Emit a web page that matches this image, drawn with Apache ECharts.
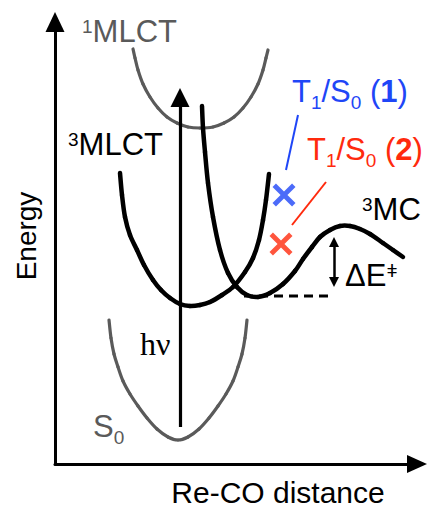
<!DOCTYPE html>
<html><head><meta charset="utf-8">
<script src="https://cdn.jsdelivr.net/npm/echarts@6/dist/echarts.min.js"></script>
<style>html,body{margin:0;padding:0;background:#fff}#c{width:430px;height:508px}</style>
</head><body><div id="c"></div>
<script>
// Axis ranges (x: Re-CO distance, y: Energy; arbitrary units)
const xRange = [55, 417];
const yRange = [0, 442];

// Potential energy curves (x, energy)
const xMLCT1 = [133,135,138,143,150,158,167,177,188,200,213,224,234,243,251,258,263,266,268];
const eMLCT1 = [415,406,394,380,367,356,347,341,337,336,337,341,347,356,367,380,394,406,414];

const xS0 = [109,111,114,118,123,130,138,147,157,168,178,188,199,209,218,226,233,238,242,245,247];
const eS0 = [144,126,110,97,83,70,58,46,35,27,24,27,35,46,58,70,83,97,110,126,144];

const xMLCT3 = [120,122,125,130,137,144,153,161,170,180,190,200,210,222,233,245,253,259,263,266,269];
const eMLCT3 = [291,269,247,229,214,199,184,174,166,160,158,159,162,169,177,192,206,224,244,264,290];

const xMC3 = [202,203,205,208,213,220,228,237,247,258,270,283,295,303,312,320,330,340,350,360,370,383,393,403];
const eMC3 = [358,336,312,281,247,214,191,177,169,167,171,180,193,205,217,227,234,238,238,235,230,221,214,207];

// Reference level of 3MLCT minimum (dashed)
const xDash = [244, 333];
const eDash = [168, 168];

// Excitation arrow (h nu) and barrier arrow (ΔE‡)
const hvArrow = [[180, 37], [180, 366.5]];
const barrierArrow = [[334, 182], [334, 222]];

// T1/S0 crossing points and their pointer lines
const crossing1 = [284, 269];
const crossing2 = [281, 220];
const pointer1 = [[298, 349], [286, 294]];
const pointer2 = [[326, 282], [292, 239]];

// Labels
const labelMLCT1 = 'MLCT', supMLCT1 = '1';
const labelMLCT3 = 'MLCT', supMLCT3 = '3';
const labelMC3 = 'MC', supMC3 = '3';
const labelS0 = 'S', subS0 = '0';
const labelHv = 'hν';
const labelBarrier = 'ΔE', supBarrier = 'ǂ';
const xTitle = 'Re-CO distance';
const yTitle = 'Energy';

const FONT = '"Liberation Sans", Arial, sans-serif';
const GRAY = '#5a5a5a';
const BLUE = '#1f46f7';
const RED = '#ff2a0d';

function zip(xs, ys) { return xs.map((x, i) => [x, ys[i]]); }

// Smooth curve through the data points (Catmull-Rom segments, one per data item)
function curve(name, xs, ys, color, width) {
  const pts = zip(xs, ys);
  return {
    name, type: 'custom', data: pts, silent: true, z: 2, clip: false,
    encode: { x: 0, y: 1 },
    renderItem(params, api) {
      const i = params.dataIndex;
      if (i >= pts.length - 1) return null;
      const P = (k) => api.coord(pts[Math.max(0, Math.min(pts.length - 1, k))]);
      const p0 = P(i - 1), p1 = P(i), p2 = P(i + 1), p3 = P(i + 2);
      return {
        type: 'bezierCurve',
        shape: {
          x1: p1[0], y1: p1[1], x2: p2[0], y2: p2[1],
          cpx1: p1[0] + (p2[0] - p0[0]) / 6, cpy1: p1[1] + (p2[1] - p0[1]) / 6,
          cpx2: p2[0] - (p3[0] - p1[0]) / 6, cpy2: p2[1] - (p3[1] - p1[1]) / 6
        },
        style: { fill: 'none', stroke: color, lineWidth: width, lineCap: 'round' }
      };
    }
  };
}

function rich(color) {
  return {
    m: { fontSize: 31, fontFamily: FONT, lineHeight: 31, fill: color },
    b: { fontSize: 31, fontFamily: FONT, fontWeight: 'bold', lineHeight: 31, fill: color },
    sup: { fontSize: 19, fontFamily: FONT, height: 22, lineHeight: 22, verticalAlign: 'top', fill: color },
    sub: { fontSize: 19, fontFamily: FONT, height: 8, lineHeight: 8, verticalAlign: 'bottom', fill: color }
  };
}

function label(x, y, text, color) {
  return {
    type: 'text', x, y, z: 10,
    style: { text, rich: rich(color), align: 'left', verticalAlign: 'middle', fill: color,
             fontSize: 31, fontFamily: FONT }
  };
}

const xPath = 'path://M0,3L3,0L10,7L17,0L20,3L13,10L20,17L17,20L10,13L3,20L0,17L7,10Z';

const chart = echarts.init(document.getElementById('c'), null, { renderer: 'svg' });
chart.setOption({
  animation: false,
  backgroundColor: '#fff',
  grid: { left: 55, right: 13, top: 22, bottom: 44, containLabel: false },
  xAxis: {
    type: 'value', min: xRange[0], max: xRange[1],
    axisLine: { show: true, onZero: false, symbol: ['none', 'triangle'], symbolSize: [18, 20],
                lineStyle: { color: '#000', width: 3 } },
    axisTick: { show: false }, axisLabel: { show: false }, splitLine: { show: false }
  },
  yAxis: {
    type: 'value', min: yRange[0], max: yRange[1],
    axisLine: { show: true, onZero: false, symbol: ['none', 'triangle'], symbolSize: [19, 20],
                lineStyle: { color: '#000', width: 3 } },
    axisTick: { show: false }, axisLabel: { show: false }, splitLine: { show: false }
  },
  series: [
    curve('1MLCT', xMLCT1, eMLCT1, GRAY, 3.2),
    curve('S0', xS0, eS0, GRAY, 3.2),
    curve('3MLCT', xMLCT3, eMLCT3, '#000', 4.5),
    curve('3MC', xMC3, eMC3, '#000', 4.5),
    {
      name: 'dash', type: 'line', data: zip(xDash, eDash), symbol: 'none', silent: true,
      lineStyle: { color: '#000', width: 3, type: [9, 6] }, z: 2
    },
    {
      name: 'hv', type: 'lines', coordinateSystem: 'cartesian2d', silent: true, z: 3,
      symbol: ['none', 'triangle'], symbolSize: [19, 19],
      lineStyle: { color: '#000', width: 3.2, opacity: 1 },
      data: [{ coords: hvArrow }]
    },
    {
      name: 'barrier', type: 'lines', coordinateSystem: 'cartesian2d', silent: true, z: 3,
      symbol: ['triangle', 'triangle'], symbolSize: [10, 10],
      lineStyle: { color: '#000', width: 2.5, opacity: 1 },
      data: [{ coords: barrierArrow }]
    },
    {
      name: 'pointer1', type: 'lines', coordinateSystem: 'cartesian2d', silent: true, z: 3,
      symbol: ['none', 'none'], lineStyle: { color: BLUE, width: 2, opacity: 1 },
      data: [{ coords: pointer1 }]
    },
    {
      name: 'pointer2', type: 'lines', coordinateSystem: 'cartesian2d', silent: true, z: 3,
      symbol: ['none', 'none'], lineStyle: { color: RED, width: 2, opacity: 1 },
      data: [{ coords: pointer2 }]
    },
    {
      name: 'T1/S0 (1)', type: 'scatter', symbol: xPath, symbolSize: 23, silent: true, z: 4,
      itemStyle: { color: BLUE }, data: [crossing1]
    },
    {
      name: 'T1/S0 (2)', type: 'scatter', symbol: xPath, symbolSize: 23, silent: true, z: 4,
      itemStyle: { color: RED }, data: [crossing2]
    }
  ],
  graphic: [
    label(82, 31, '{sup|' + supMLCT1 + '}{m|' + labelMLCT1 + '}', GRAY),
    label(68, 144, '{sup|' + supMLCT3 + '}{m|' + labelMLCT3 + '}', '#000'),
    label(362, 209, '{sup|' + supMC3 + '}{m|' + labelMC3 + '}', '#000'),
    label(93, 426, '{m|' + labelS0 + '}{sub|' + subS0 + '}', GRAY),
    label(292, 91, '{m|T}{sub|1}{m|/S}{sub|0}{m| (}{b|1}{m|)}', BLUE),
    label(307, 149, '{m|T}{sub|1}{m|/S}{sub|0}{m| (}{b|2}{m|)}', RED),
    label(345, 275, '{m|' + labelBarrier + '}{sup|' + supBarrier + '}', '#000'),
    {
      type: 'text', x: 140, y: 344, z: 10,
      style: { text: labelHv, fontSize: 32, fontFamily: '"Liberation Serif", "Times New Roman", serif',
               fill: '#000', align: 'left', verticalAlign: 'middle' }
    },
    {
      type: 'text', x: 278, y: 492, z: 10,
      style: { text: xTitle, fontSize: 30, fontFamily: FONT, fill: '#000', align: 'center', verticalAlign: 'middle' }
    },
    {
      type: 'text', x: 26, y: 236, rotation: Math.PI / 2, z: 10,
      style: { text: yTitle, fontSize: 28, fontFamily: FONT, fill: '#000', align: 'center', verticalAlign: 'middle' }
    }
  ]
});
</script></body></html>
